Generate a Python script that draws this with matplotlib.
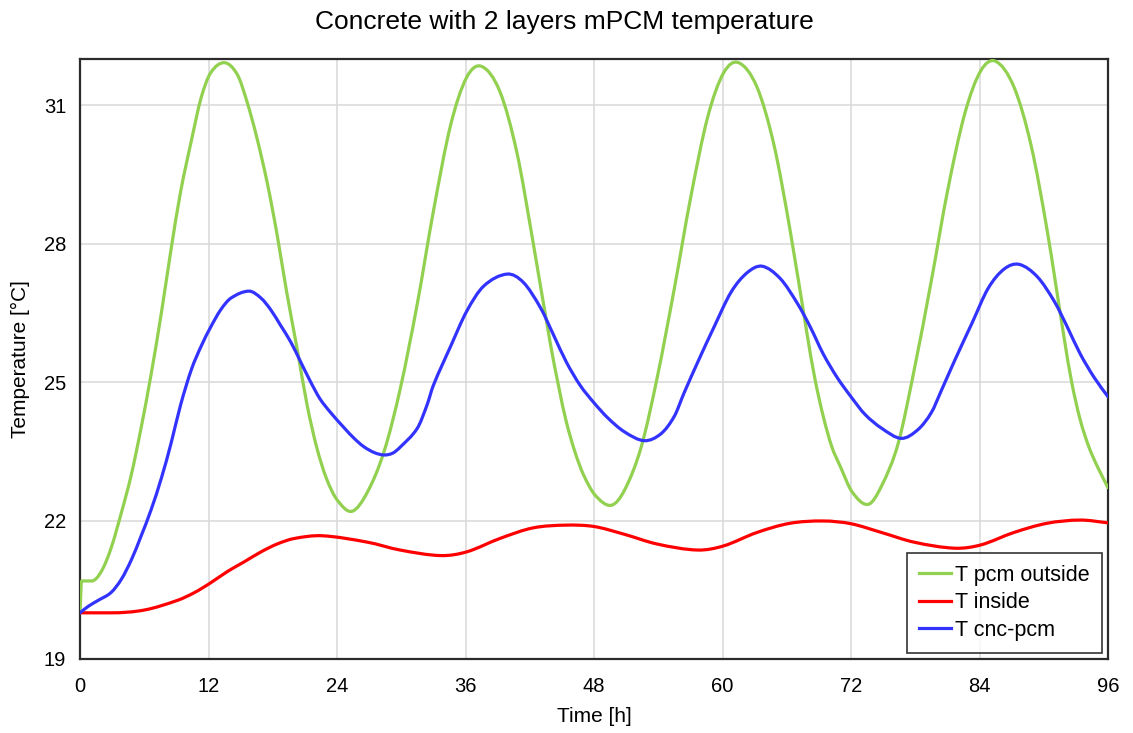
import matplotlib
matplotlib.use("Agg")
import matplotlib.pyplot as plt
from matplotlib.path import Path
from matplotlib.patches import PathPatch
from matplotlib.lines import Line2D

plt.rcParams['font.family'] = ['Liberation Sans', 'DejaVu Sans']

# Outer PCM surface temperature
t_pcm_out = [0, 0.15, 1.1, 2.0, 2.9, 3.9, 4.8, 5.7, 6.65, 7.6, 8.5, 9.4, 10.4, 11.3,
             12.2, 13.5, 14.7, 15.6, 16.5, 17.5, 18.4, 19.3, 20.3, 21.2,
             22.1, 23.0, 24.0, 25.4, 26.85, 28.4, 29.9, 31.5, 33.0, 34.6,
             36.1, 37.5, 39.2, 40.8, 42.3, 43.9, 44.7, 45.4, 46.2, 47.0, 48.1,
             49.6, 50.85, 52.4, 53.9, 55.5, 57.0, 58.6, 60.1, 61.5,
             63.2, 64.8, 66.3, 67.9, 68.6, 69.4, 70.2, 71.0, 72.1, 73.6, 74.85, 76.4,
             77.9, 79.5, 81.0, 82.6, 84.1, 85.5, 87.2, 88.8, 90.3, 91.9, 92.6,
             93.4, 94.2, 95.0, 96.0]
T_pcm_out = [20.0, 20.69, 20.69, 20.9, 21.4, 22.2, 23.0, 24.0, 25.18, 26.5, 27.87, 29.13,
             30.23, 31.15, 31.70, 31.92, 31.66, 31.07, 30.31, 29.3, 28.2,
             26.95, 25.69, 24.51, 23.59, 22.92, 22.45, 22.2, 22.62, 23.5,
             24.85, 26.7, 28.7, 30.56, 31.6, 31.84, 31.3, 29.97, 28.04,
             25.86, 24.9, 24.15, 23.5, 23.0, 22.55, 22.33, 22.66, 23.59, 25.1, 27.03,
             28.97, 30.73, 31.7, 31.92, 31.4, 30.14, 28.3, 26.03, 25.1, 24.26, 23.6,
             23.17, 22.62, 22.35, 22.75, 23.67, 25.27, 27.2, 29.13, 30.8,
             31.74, 31.95, 31.4, 30.14, 28.3, 25.95, 25.0, 24.18, 23.6, 23.17, 22.71]

# Indoor air temperature
t_inside = [0, 2.9, 6.0, 9.1, 10.7, 12.2, 13.8, 15.3, 16.9, 18.4, 20.0, 22.6,
            26.85, 29.9, 33.7, 36.1, 39.2, 42.3, 45.4, 48.0, 50.85, 53.9, 57.7,
            60.1, 63.2, 66.3, 69.4, 72.0, 74.85, 77.9, 81.7, 84.1, 87.2, 90.3, 93.4, 96.0]
T_inside = [20.0, 20.0, 20.06, 20.27, 20.44, 20.65, 20.9, 21.1, 21.32, 21.49, 21.61,
            21.67, 21.53, 21.36, 21.24, 21.32, 21.61, 21.84, 21.9, 21.87,
            21.7, 21.49, 21.36, 21.45, 21.74, 21.94, 21.99, 21.93, 21.74, 21.53, 21.4,
            21.47, 21.74, 21.94, 22.01, 21.95]

# Concrete / PCM interface temperature
t_cnc_pcm = [0, 0.77, 1.7, 2.9, 3.87, 4.8, 5.7, 6.65, 7.6, 8.5, 9.4, 10.4, 11.3, 12.2,
             13.15, 14.1, 15.8, 16.9, 17.8, 18.7, 19.7, 20.6, 21.5, 22.4, 23.4,
             24.7, 25.6, 26.5, 27.5, 28.4, 29.2, 29.9, 31.5, 32.4, 33.0, 34.6, 36.1, 37.7,
             39.9, 41.4, 43.0, 44.2, 45.4, 46.7, 48.0, 49.3, 50.85, 52.7, 54.25, 55.5,
             56.4, 57.7, 59.2, 60.8, 62.3, 63.7, 65.4, 67.0, 68.2, 69.4, 70.7, 72.0,
             73.3, 74.85, 76.7, 78.25, 79.5, 80.4, 81.7, 83.3, 84.8, 86.3, 87.7, 89.4,
             91.0, 92.2, 93.4, 94.7, 96.0]
T_cnc_pcm = [20.0, 20.14, 20.27, 20.44, 20.73, 21.15, 21.66, 22.24, 22.92, 23.67, 24.51,
             25.27, 25.77, 26.19, 26.57, 26.82, 26.97, 26.82, 26.57, 26.24, 25.86,
             25.44, 25.02, 24.64, 24.34, 24.0, 23.78, 23.6, 23.47, 23.42, 23.46, 23.59,
             24.0, 24.5, 24.93, 25.77, 26.53, 27.08, 27.34, 27.16, 26.61, 26.03, 25.44,
             24.93, 24.55, 24.22, 23.92, 23.73, 23.88, 24.26, 24.76, 25.44, 26.19, 26.95,
             27.37, 27.51, 27.24, 26.7, 26.19, 25.61, 25.1, 24.68, 24.3, 24.0, 23.78,
             23.97, 24.34, 24.8, 25.48, 26.28, 27.03, 27.45, 27.55, 27.28, 26.74, 26.19,
             25.61, 25.1, 24.68]

series_names = ['T pcm outside', 'T inside', 'T cnc-pcm']
series_colors = ['#92D050', '#FF0000', '#3333FF']

x_ticks = [0, 12, 24, 36, 48, 60, 72, 84, 96]
y_ticks = [19, 22, 25, 28, 31]


def smooth_path(t, y):
    """Smoothed (cubic Bezier) line through the given samples."""
    n = len(t)
    h = [t[i + 1] - t[i] for i in range(n - 1)]
    d = [(y[i + 1] - y[i]) / h[i] for i in range(n - 1)]
    m = [0.0] * n
    m[0], m[-1] = d[0], d[-1]
    for k in range(1, n - 1):
        if d[k - 1] == 0 or d[k] == 0:
            m[k] = 0.0
        else:
            m[k] = (y[k + 1] - y[k - 1]) / (t[k + 1] - t[k - 1])
    verts = [(t[0], y[0])]
    codes = [Path.MOVETO]
    for i in range(n - 1):
        a = h[i] / 3.0
        verts += [(t[i] + a, y[i] + m[i] * a),
                  (t[i + 1] - a, y[i + 1] - m[i + 1] * a),
                  (t[i + 1], y[i + 1])]
        codes += [Path.CURVE4] * 3
    return Path(verts, codes)


fig = plt.figure(figsize=(11.33, 7.33), dpi=100)
ax = fig.add_axes([0.0706, 0.101, 0.9074, 0.8185])

handles = []
for (tt, yy), name, col in zip([(t_pcm_out, T_pcm_out), (t_inside, T_inside),
                                (t_cnc_pcm, T_cnc_pcm)], series_names, series_colors):
    ax.add_patch(PathPatch(smooth_path(tt, yy), facecolor='none', edgecolor=col,
                           lw=2.3, capstyle='round', joinstyle='round', zorder=3))
    handles.append(Line2D([], [], color=col, lw=2.3, label=name))

ax.set_xlim(0, 96)
ax.set_ylim(19, 32)
ax.set_xticks(x_ticks)
ax.set_yticks(y_ticks)
ax.grid(True, color='#D9D9D9', lw=1.1)
ax.set_axisbelow(True)
ax.tick_params(axis='x', length=0, labelsize=14.5, pad=13)
ax.tick_params(axis='y', length=0, labelsize=14.5, pad=10)
for s in ax.spines.values():
    s.set_color('#2B2B2B')
    s.set_linewidth(1.6)

fig.text(0.498, 0.970, 'Concrete with 2 layers mPCM temperature', fontsize=19,
         ha='center', va='center')
ax.set_xlabel('Time [h]', fontsize=15, labelpad=8)
ax.set_ylabel('Temperature [°C]', fontsize=15, labelpad=10)

leg = ax.legend(handles=handles, loc='lower right', fontsize=15.5, frameon=True,
                fancybox=False, shadow=False, handlelength=1.5, handletextpad=0.2,
                borderpad=0.55, labelspacing=0.3, borderaxespad=0.3)
leg.get_frame().set_edgecolor('#000000')
leg.get_frame().set_linewidth(1.2)

fig.savefig('out.png', dpi=100)
